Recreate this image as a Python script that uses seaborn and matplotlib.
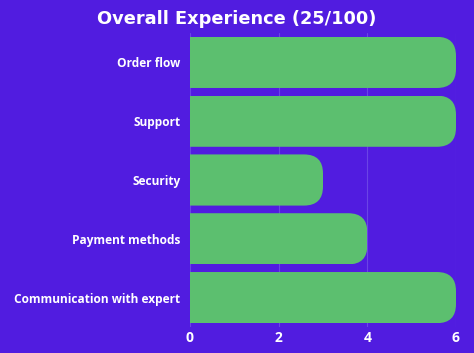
import matplotlib
matplotlib.use("Agg")
import matplotlib.pyplot as plt
import seaborn as sns
import pandas as pd
from matplotlib.patches import FancyBboxPatch

categories = ["Order flow", "Support", "Security", "Payment methods", "Communication with expert"]
values = [6, 6, 3, 4, 6]
xticks = [0, 2, 4, 6]
title = "Overall Experience (25/100)"

BG = "#511CE0"
GREEN = "#5CBF6F"
GRID = "#6B44E6"

sns.set_theme(style="white")
plt.rcParams["font.family"] = ["Open Sans", "DejaVu Sans"]

df = pd.DataFrame({"cat": categories, "val": values})

W, H, DPI = 4.74, 3.53, 100
fig = plt.figure(figsize=(W, H), dpi=DPI, facecolor=BG)
L, R, T, B = 190, 456, 33, 327
ax = fig.add_axes([L / 474, 1 - B / 353, (R - L) / 474, (B - T) / 353])
ax.set_facecolor(BG)

sns.barplot(data=df, x="val", y="cat", orient="h", color=GREEN, width=0.87,
            saturation=1, ax=ax, zorder=3)
ax.set_xlim(0, 6)
ax.set_ylim(4.5, -0.5)
ax.set_xticks(xticks)
ax.set_xticklabels([str(t) for t in xticks])
for s in ax.spines.values():
    s.set_visible(False)
for t in xticks:
    ax.axvline(t, color=GRID, lw=0.8, zorder=1)
ax.set_xlabel("")
ax.set_ylabel("")
ax.tick_params(axis="both", length=0, colors="white")
ax.tick_params(axis="y", pad=7)
ax.tick_params(axis="x", pad=3)
for lab in ax.get_yticklabels():
    lab.set_fontweight("bold")
    lab.set_fontsize(8.6)
    lab.set_color("white")
for lab in ax.get_xticklabels():
    lab.set_fontweight("bold")
    lab.set_fontsize(10)
    lab.set_color("white")

# rounded right ends
xpp = 6 / (R - L)
ypp = 5 / (B - T)
aspect = ypp / xpp
r = 19 * xpp
for p in ax.patches:
    x0, y0, w, h = p.get_x(), p.get_y(), p.get_width(), p.get_height()
    clip = FancyBboxPatch((x0 - 2 * r, y0), w + 2 * r, h,
                          boxstyle=f"round,pad=0,rounding_size={r}",
                          mutation_aspect=aspect, transform=ax.transData,
                          facecolor="none", edgecolor="none")
    ax.add_patch(clip)
    p.set_clip_path(clip)
    p.set_edgecolor("none")

fig.text(237 / 474, 1 - 19 / 353, title, ha="center", va="center",
         color="white", fontsize=12.8, fontweight="bold", family=["DejaVu Sans"])

fig.savefig("out.png", dpi=DPI, facecolor=BG)
